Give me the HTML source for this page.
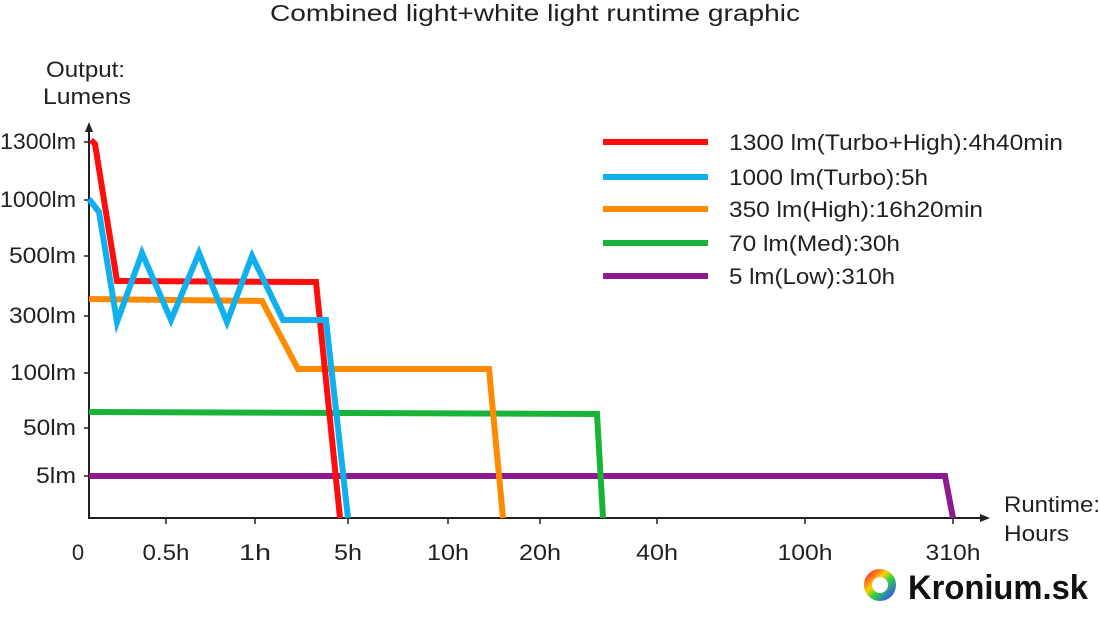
<!DOCTYPE html>
<html><head><meta charset="utf-8"><style>
html,body{margin:0;padding:0;background:#fff;}
svg{display:block;font-family:"Liberation Sans",Arial,sans-serif;}
</style></head><body>
<svg width="1100" height="617" viewBox="0 0 1100 617" xmlns="http://www.w3.org/2000/svg">
<text x="270" y="21" font-size="23" fill="#231f20" textLength="530" lengthAdjust="spacingAndGlyphs">Combined light+white light runtime graphic</text>
<text x="46" y="77" font-size="22" fill="#231f20" textLength="79" lengthAdjust="spacingAndGlyphs">Output:</text>
<text x="43" y="104" font-size="22" fill="#231f20" textLength="88" lengthAdjust="spacingAndGlyphs">Lumens</text>
<g fill="#231f20" font-size="22" text-anchor="end">
<text x="76" y="149" textLength="76" lengthAdjust="spacingAndGlyphs">1300lm</text>
<text x="76" y="207" textLength="76" lengthAdjust="spacingAndGlyphs">1000lm</text>
<text x="76" y="263" textLength="67" lengthAdjust="spacingAndGlyphs">500lm</text>
<text x="76" y="323" textLength="67" lengthAdjust="spacingAndGlyphs">300lm</text>
<text x="76" y="380" textLength="66" lengthAdjust="spacingAndGlyphs">100lm</text>
<text x="76" y="435" textLength="53" lengthAdjust="spacingAndGlyphs">50lm</text>
<text x="76" y="483" textLength="40" lengthAdjust="spacingAndGlyphs">5lm</text>
</g>
<g fill="#231f20" font-size="22" text-anchor="middle">
<text x="78" y="560">0</text>
<text x="166" y="560" textLength="47" lengthAdjust="spacingAndGlyphs">0.5h</text>
<text x="255" y="560" textLength="32" lengthAdjust="spacingAndGlyphs">1h</text>
<text x="348" y="560" textLength="28" lengthAdjust="spacingAndGlyphs">5h</text>
<text x="448" y="560" textLength="42" lengthAdjust="spacingAndGlyphs">10h</text>
<text x="540" y="560" textLength="42" lengthAdjust="spacingAndGlyphs">20h</text>
<text x="657" y="560" textLength="42" lengthAdjust="spacingAndGlyphs">40h</text>
<text x="805" y="560" textLength="55" lengthAdjust="spacingAndGlyphs">100h</text>
<text x="953" y="560" textLength="55" lengthAdjust="spacingAndGlyphs">310h</text>
</g>
<text x="1004" y="512" font-size="22" fill="#231f20" textLength="96" lengthAdjust="spacingAndGlyphs">Runtime:</text>
<text x="1004" y="541" font-size="22" fill="#231f20" textLength="65" lengthAdjust="spacingAndGlyphs">Hours</text>
<g stroke="#231f20" stroke-width="2" fill="none">
<line x1="89" y1="128" x2="89" y2="519"/>
<line x1="88" y1="518" x2="983" y2="518"/>
<g stroke-width="1.5">
<line x1="84" y1="142" x2="89" y2="142"/><line x1="84" y1="200" x2="89" y2="200"/>
<line x1="84" y1="256" x2="89" y2="256"/><line x1="84" y1="316" x2="89" y2="316"/>
<line x1="84" y1="373" x2="89" y2="373"/><line x1="84" y1="428" x2="89" y2="428"/>
<line x1="84" y1="476" x2="89" y2="476"/>
<line x1="166" y1="518" x2="166" y2="524"/><line x1="255" y1="518" x2="255" y2="524"/>
<line x1="348" y1="518" x2="348" y2="524"/><line x1="448" y1="518" x2="448" y2="524"/>
<line x1="540" y1="518" x2="540" y2="524"/><line x1="657" y1="518" x2="657" y2="524"/>
<line x1="805" y1="518" x2="805" y2="524"/><line x1="953" y1="518" x2="953" y2="524"/>
</g>
</g>
<polygon points="89,122 85,132 93,132" fill="#231f20"/>
<polygon points="990,518 980,514 980,522" fill="#231f20"/>
<g fill="none" stroke-width="6" stroke-linejoin="miter">
<polyline stroke="#8d1b8f" points="89,476 945,476 953,518"/>
<polyline stroke="#19b33a" points="89,412 597,414 603,518"/>
<polyline stroke="#ff8a00" points="89,299 262,301 298,369 489,369 503,518"/>
<polyline stroke="#ff0d0d" points="91,140 95,144 117,281 316,282 340,518"/>
<polyline stroke="#10b0ef" points="89,199 99,212 117,322 142,253 171,320 199,253 227,322 252,256 283,320 326,320 348,518"/>
</g>
<g stroke-width="6">
<line x1="603" y1="142" x2="708" y2="142" stroke="#ff0d0d"/>
<line x1="603" y1="177" x2="708" y2="177" stroke="#10b0ef"/>
<line x1="603" y1="209" x2="708" y2="209" stroke="#ff8a00"/>
<line x1="603" y1="243" x2="708" y2="243" stroke="#19b33a"/>
<line x1="603" y1="276" x2="708" y2="276" stroke="#8d1b8f"/>
</g>
<g font-size="22" fill="#231f20">
<text x="729" y="150" textLength="334" lengthAdjust="spacingAndGlyphs">1300 lm(Turbo+High):4h40min</text>
<text x="729" y="185" textLength="199" lengthAdjust="spacingAndGlyphs">1000 lm(Turbo):5h</text>
<text x="729" y="217" textLength="254" lengthAdjust="spacingAndGlyphs">350 lm(High):16h20min</text>
<text x="729" y="251" textLength="171" lengthAdjust="spacingAndGlyphs">70 lm(Med):30h</text>
<text x="729" y="284" textLength="166" lengthAdjust="spacingAndGlyphs">5 lm(Low):310h</text>
</g>
<defs>
<linearGradient id="lg" x1="0" y1="0" x2="1" y2="1">
<stop offset="0" stop-color="#ff3030"/><stop offset="0.35" stop-color="#ffd000"/>
<stop offset="0.6" stop-color="#30d040"/><stop offset="1" stop-color="#3050ff"/>
</linearGradient>
</defs>
<circle cx="880" cy="585" r="12" fill="none" stroke="url(#lg)" stroke-width="8"/>
<text x="908" y="599" font-size="34" font-weight="bold" fill="#111" textLength="180" lengthAdjust="spacingAndGlyphs">Kronium.sk</text>
</svg>
</body></html>
